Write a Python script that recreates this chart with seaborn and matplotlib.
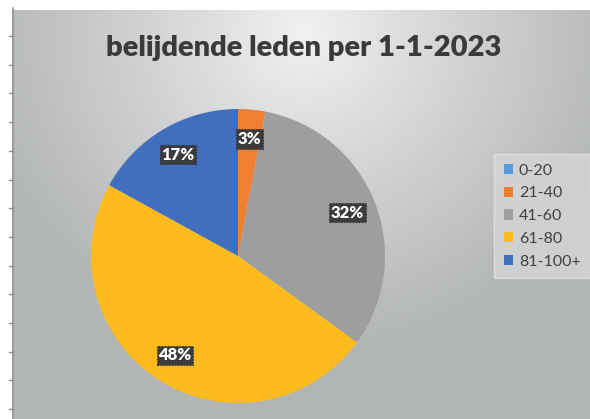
import numpy as np
import matplotlib
matplotlib.use("Agg")
import matplotlib.pyplot as plt
import seaborn as sns
from matplotlib.lines import Line2D

# ------------------------------------------
# Data (percentages)
# ------------------------------------------
title = "belijdende leden per 1-1-2023"
age_groups = ["0-20", "21-40", "41-60", "61-80", "81-100+"]
shares = [0, 3, 32, 48, 17]
slice_colors = ["#5b9bd5", "#ef7f31", "#9c9e9f", "#fdbb1d", "#416fbd"]

sns.set_style("white")
plt.rcParams["font.family"] = ["Lato", "DejaVu Sans"]

W, H = 590, 419
fig = plt.figure(figsize=(W / 100, H / 100), dpi=100)
fig.patch.set_facecolor("white")

# ------------------------------------------
# Chart area background: soft radial gradient
# ------------------------------------------
left_px, top_px = 14, 10
bg = fig.add_axes([left_px / W, 0, (W - left_px) / W, (H - top_px) / H])
bw, bh = W - left_px, H - top_px
yy, xx = np.mgrid[0:bh, 0:bw]
cx, cy = 290, 25
d = np.sqrt((xx - cx) ** 2 + ((yy - cy) * 1.05) ** 2)
t = np.clip(d / 330, 0, 1) ** 0.9
light = np.array([0.95, 0.95, 0.95])
dark = np.array([0.70, 0.71, 0.715])
img = light[None, None, :] * (1 - t[..., None]) + dark[None, None, :] * t[..., None]
bg.imshow(img, aspect="auto", interpolation="bilinear")
bg.set_axis_off()

# spreadsheet-like ruler on the left edge
fig.add_artist(Line2D([13 / W, 13 / W], [0, 1 - 8 / H], color="#8a8a8a", lw=1.2))
for ty in np.arange(36, H, 28.7):
    fig.add_artist(Line2D([9 / W, 13 / W], [1 - ty / H, 1 - ty / H], color="#8a8a8a", lw=1.0))

# ------------------------------------------
# Title
# ------------------------------------------
fig.text(304 / W, 1 - 48 / H, title, ha="center", va="center",
         fontsize=21, fontweight="heavy", color="#3a3a3a")

# ------------------------------------------
# Pie
# ------------------------------------------
pcx, pcy, r = 238, 256, 147
lim = 1.02
side = 2 * r * lim
ax = fig.add_axes([(pcx - side / 2) / W, 1 - (pcy + side / 2) / H, side / W, side / H])


def pct_label(p):
    return f"{p:.0f}%" if p >= 1 else ""


wedges, _, autotexts = ax.pie(
    shares,
    colors=slice_colors,
    startangle=90,
    counterclock=False,
    autopct=pct_label,
    pctdistance=0.8,
    wedgeprops=dict(linewidth=0),
)
ax.set_xlim(-lim, lim)
ax.set_ylim(-lim, lim)
ax.set_aspect("equal")
ax.set_axis_off()

for txt in autotexts:
    txt.set_color("white")
    txt.set_fontsize(12)
    txt.set_fontweight("heavy")
    txt.set_bbox(dict(boxstyle="square,pad=0.1", facecolor="#3b3b3b",
                      edgecolor="#2a2a2a", linestyle=":", linewidth=0.8))

# ------------------------------------------
# Legend
# ------------------------------------------
leg = fig.legend(
    wedges,
    age_groups,
    loc="upper left",
    bbox_to_anchor=(494 / W, 1 - 154 / H),
    frameon=True,
    fontsize=11.5,
    handlelength=0.6,
    handleheight=0.6,
    handletextpad=0.35,
    labelspacing=0.55,
    borderpad=0.6,
    borderaxespad=0,
    fancybox=False,
)
leg.get_frame().set_facecolor("#d5d6d7")
leg.get_frame().set_edgecolor("#e2e3e3")
leg.get_frame().set_linewidth(1.0)
for txt in leg.get_texts():
    txt.set_color("#404040")

plt.savefig("out.png", dpi=100)
plt.close()
